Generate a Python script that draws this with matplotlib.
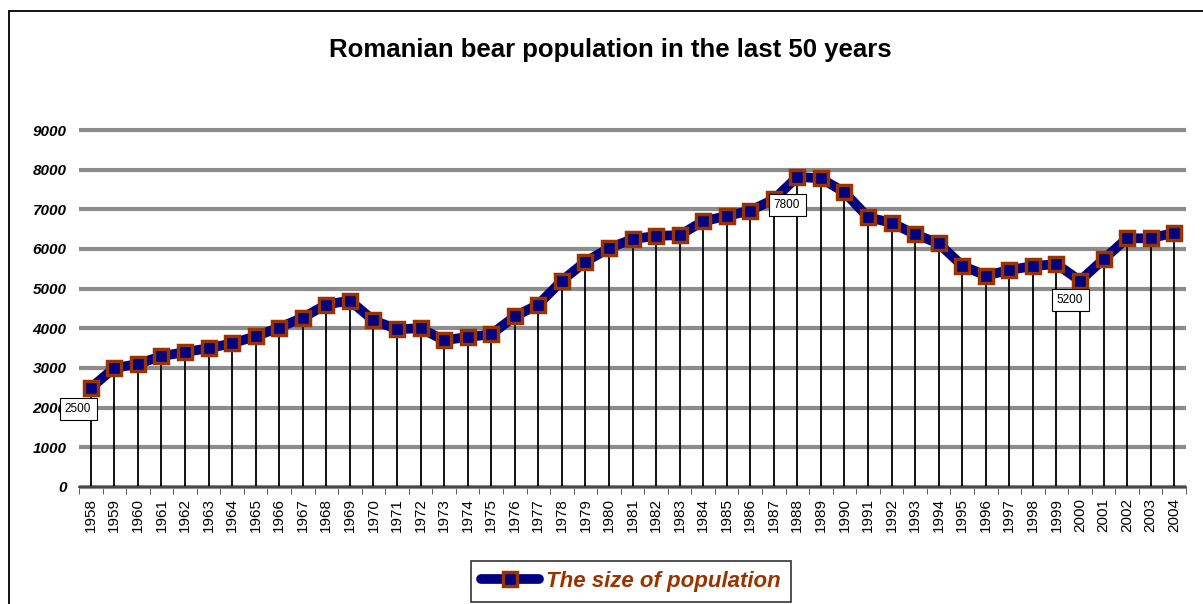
import numpy as np
import matplotlib.pyplot as plt
from matplotlib.patches import Rectangle
from matplotlib.lines import Line2D

years = list(range(1958, 2005))
population = [2500, 3000, 3100, 3300, 3400, 3500, 3620, 3800, 4020, 4270,
              4600, 4700, 4200, 3980, 4000, 3700, 3780, 3850, 4300, 4600,
              5200, 5680, 6020, 6250, 6330, 6350, 6700, 6830, 6970, 7250,
              7820, 7780, 7430, 6800, 6660, 6370, 6140, 5580, 5330, 5470,
              5570, 5620, 5200, 5740, 6270, 6270, 6410]
labelled = {1958: "2500", 1988: "7800", 2000: "5200"}

plt.rcParams['font.family'] = ['Liberation Sans', 'DejaVu Sans']

fig = plt.figure(figsize=(12.03, 6.04), dpi=100)
ax = fig.add_axes([79/1203, 1 - 487/604, (1186-79)/1203, (487-130)/604])

x = np.arange(len(years))
navy = '#000080'
brown = '#993300'

# drop lines from each point to the axis
ax.vlines(x, 0, population, colors='black', linewidth=1.3, zorder=2)
ax.plot(x, population, color=navy, linewidth=7, solid_capstyle='round',
        solid_joinstyle='round', zorder=3)
ax.plot(x, population, linestyle='none', marker='s', markersize=10,
        markerfacecolor=navy, markeredgecolor=brown, markeredgewidth=2.5, zorder=4)

ax.set_xlim(-0.5, len(years) - 0.5)
ax.set_ylim(0, 9000)
ax.set_yticks(range(0, 9001, 1000))
ax.set_yticklabels([str(v) for v in range(0, 9001, 1000)],
                   fontsize=11, fontweight='bold', fontstyle='italic')
ax.set_xticks(x)
ax.set_xticklabels([str(y) for y in years], rotation=90, fontsize=11)
ax.set_xticks(np.arange(-0.5, len(years), 1), minor=True)
ax.tick_params(axis='x', which='major', length=0, pad=8)
ax.tick_params(axis='x', which='minor', length=5, color='#404040')
ax.tick_params(axis='y', length=0, pad=9)

ax.yaxis.grid(True, color='#8c8c8c', linewidth=3)
for gl in ax.get_ygridlines():
    gl.set_clip_on(False)
    gl.set_solid_capstyle('butt')
ax.set_axisbelow(True)
for s in ['left', 'right', 'top']:
    ax.spines[s].set_visible(False)
ax.spines['bottom'].set_color('#404040')
ax.spines['bottom'].set_linewidth(1.3)
ax.spines['bottom'].set_zorder(5)

# data labels (boxes sit below-left of their points)
offsets = {1958: (-0.54, -530), 1988: (-0.44, -710), 2000: (-0.42, -490)}
for yr, txt in labelled.items():
    i = years.index(yr)
    dx, dy = offsets[yr]
    ax.text(i + dx, population[i] + dy, txt, fontsize=8.5, ha='center', va='center',
            bbox=dict(boxstyle='square,pad=0.45', facecolor='white',
                      edgecolor='black', linewidth=0.8), zorder=6)

fig.text(610/1203, 1 - 50/604, "Romanian bear population in the last 50 years",
         ha='center', va='center', fontsize=18.5, fontweight='bold')

# legend
handle = Line2D([0], [0], color=navy, linewidth=7, solid_capstyle='round',
                marker='s', markersize=10, markerfacecolor=navy,
                markeredgecolor=brown, markeredgewidth=2.5)
leg = fig.legend([handle], ["The size of population"], loc='center',
                 bbox_to_anchor=(631/1203, 1 - 581/604), frameon=True,
                 fancybox=False, edgecolor='black', handlelength=2.6,
                 borderpad=0.45, handletextpad=0.3,
                 prop={'size': 16, 'weight': 'bold', 'style': 'italic'})
leg.get_frame().set_linewidth(1.2)
for t in leg.get_texts():
    t.set_color(brown)

# outer chart border
fig.patches.append(Rectangle((9/1203, -0.1), 1.2, 1 - 11/604 + 0.1,
                             transform=fig.transFigure, fill=False,
                             edgecolor='black', linewidth=1.3))

fig.savefig('out.png', dpi=100)
